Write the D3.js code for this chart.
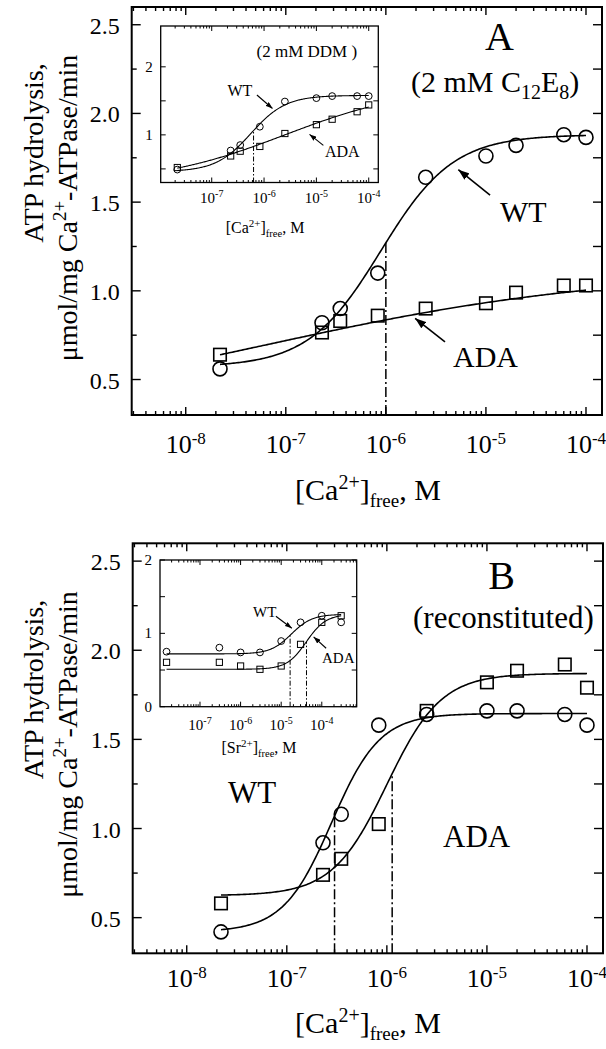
<!DOCTYPE html>
<html>
<head>
<meta charset="utf-8">
<script src="https://cdn.jsdelivr.net/npm/d3@7"></script>
<style>
  html, body { margin: 0; padding: 0; background: #fff; }
  svg { display: block; }
  text { font-family: "Liberation Serif", "Times New Roman", serif; fill: #000; }
</style>
</head>
<body>
<svg id="chart" width="606" height="1049"></svg>
<script>
// ---- free Ca2+ / Sr2+ concentrations (M) ----
const caFree = [2.2e-8, 2.3e-7, 3.5e-7, 8.3e-7, 2.5e-6, 1e-5, 2e-5, 6e-5, 1e-4];
const srFree = [1.5e-8, 3e-7, 1e-6, 3e-6, 1e-5, 3e-5, 1e-4, 3e-4];

// ---- ATP hydrolysis rates, umol/mg/min ----
// Panel A, 2 mM C12E8
const wtC12E8  = [0.56, 0.82, 0.90, 1.10, 1.64, 1.76, 1.82, 1.88, 1.865];
const adaC12E8 = [0.64, 0.765, 0.83, 0.86, 0.90, 0.93, 0.99, 1.03, 1.03];
// Panel A inset, 2 mM DDM
const wtDDM  = [0.49, 0.77, 0.85, 1.12, 1.49, 1.54, 1.57, 1.57, 1.57];
const adaDDM = [0.52, 0.69, 0.76, 0.83, 1.02, 1.15, 1.23, 1.34, 1.44];
// Panel B, reconstituted
const wtRecon  = [0.42, 0.92, 1.08, 1.58, 1.64, 1.66, 1.66, 1.64, 1.58];
const adaRecon = [0.58, 0.74, 0.83, 1.025, 1.66, 1.82, 1.885, 1.92, 1.79];
// Panel B inset, Sr2+ activation
const wtSr  = [0.75, 0.805, 0.74, 0.74, 0.895, 1.15, 1.24, 1.15];
const adaSr = [0.605, 0.605, 0.555, 0.51, 0.555, 0.85, 1.15, 1.24];

// ---- Hill fits: [bottom, top, K (M), nH] ----
const fitWtC12E8  = [0.57, 1.88, 8.9e-7, 1.2];
const fitAdaC12E8 = [0.27, 1.12, 6.3e-8, 0.25];
const fitWtDDM    = [0.46, 1.58, 5.6e-7, 1.3];
const fitAdaDDM   = [0.28, 1.72, 2.5e-6, 0.35];
const fitWtRecon  = [0.42, 1.645, 2.8e-7, 1.8];
const fitAdaRecon = [0.624, 1.87, 1.0e-6, 1.6];
const fitWtSr     = [0.72, 1.26, 1.78e-5, 1.7];
const fitAdaSr    = [0.51, 1.26, 4.17e-5, 1.8];

// ---- half-activation markers (M) ----
const halfC12E8 = [1e-6];
const halfDDM   = [6.3e-7];
const halfRecon = [3.0e-7, 1.13e-6];
const halfSr    = [1.66e-5, 4.2e-5];

// ---- tick values and labels ----
const mainXTicks = [1e-8, 1e-7, 1e-6, 1e-5, 1e-4];
const mainXTickExp = ["-8", "-7", "-6", "-5", "-4"];
const mainYTicks = [0.5, 1.0, 1.5, 2.0, 2.5];
const mainYTickLabels = ["0.5", "1.0", "1.5", "2.0", "2.5"];
const insetXTicks = [1e-7, 1e-6, 1e-5, 1e-4];
const insetXTickExp = ["-7", "-6", "-5", "-4"];
const insetAYTicks = [1, 2];
const insetAYTickLabels = ["1", "2"];
const insetBYTicks = [0, 1, 2];
const insetBYTickLabels = ["0", "1", "2"];

const svg = d3.select("#chart");

function hill(p, c) {
  const [b, t, K, n] = p;
  return b + (t - b) / (1 + Math.pow(K / c, n));
}

// text with super/subscripts: parts = [[text, size, rise]]
function rich(sel, parts) {
  let prev = 0;
  parts.forEach(([t, size, rise]) => {
    sel.append("tspan").attr("font-size", size).attr("dy", prev - rise).text(t);
    prev = rise;
  });
  return sel;
}

function drawPlot(c) {
  const g = svg.append("g");
  const x = d3.scaleLog().domain(c.xDom).range([c.x0, c.x1]);
  const y = d3.scaleLinear().domain(c.yDom).range([c.y1, c.y0]);

  if (c.background) {
    g.append("rect").attr("x", c.x0).attr("y", c.y0)
      .attr("width", c.x1 - c.x0).attr("height", c.y1 - c.y0).attr("fill", "#fff");
  }

  // fitted curves
  const line = d3.line().x(d => x(d[0])).y(d => y(d[1]));
  c.series.forEach(s => {
    const lo = Math.log10(d3.min(s.x)), hi = Math.log10(d3.max(s.x));
    const pts = d3.range(0, 241).map(i => {
      const v = Math.pow(10, lo + (hi - lo) * i / 240);
      return [v, hill(s.fit, v)];
    });
    g.append("path").attr("d", line(pts)).attr("fill", "none")
      .attr("stroke", "#000").attr("stroke-width", c.curveWidth);
  });

  // half-activation drop lines
  c.half.forEach(h => {
    g.append("line").attr("x1", x(h.x)).attr("x2", x(h.x))
      .attr("y1", c.y1).attr("y2", y(hill(h.fit, h.x)))
      .attr("stroke", "#000").attr("stroke-width", c.dashWidth)
      .attr("stroke-dasharray", c.dash);
  });

  // data markers
  c.series.forEach(s => {
    s.y.forEach((v, i) => {
      const px = x(s.x[i]), py = y(v);
      if (s.shape === "circle") {
        g.append("circle").attr("cx", px).attr("cy", py).attr("r", c.r)
          .attr("fill", "none").attr("stroke", "#000").attr("stroke-width", c.markerWidth);
      } else {
        g.append("rect").attr("x", px - c.sq / 2).attr("y", py - c.sq / 2)
          .attr("width", c.sq).attr("height", c.sq)
          .attr("fill", "none").attr("stroke", "#000").attr("stroke-width", c.markerWidth);
      }
    });
  });

  // frame
  g.append("rect").attr("x", c.x0).attr("y", c.y0)
    .attr("width", c.x1 - c.x0).attr("height", c.y1 - c.y0)
    .attr("fill", "none").attr("stroke", "#000").attr("stroke-width", c.frameWidth);

  // log x ticks (decades long, 2..9 short), bottom and top, pointing inward
  const [dLo, dHi] = [Math.floor(Math.log10(c.xDom[0])), Math.ceil(Math.log10(c.xDom[1]))];
  for (let d = dLo; d <= dHi; d++) {
    for (let m = 1; m <= 9; m++) {
      const v = m * Math.pow(10, d);
      if (v < c.xDom[0] * 1.0001 || v > c.xDom[1] * 0.9999) continue;
      const len = m === 1 ? c.xMajor : c.xMinor;
      const px = x(v);
      g.append("line").attr("x1", px).attr("x2", px).attr("y1", c.y1).attr("y2", c.y1 - len)
        .attr("stroke", "#000").attr("stroke-width", c.tickWidth);
      g.append("line").attr("x1", px).attr("x2", px).attr("y1", c.y0).attr("y2", c.y0 + len)
        .attr("stroke", "#000").attr("stroke-width", c.tickWidth);
    }
  }
  // y ticks, left and right
  c.yTickAll.forEach(v => {
    const major = c.yTicks.some(t => Math.abs(t - v) < 1e-9);
    const py = y(v);
    const lenL = major ? c.yMajor : c.yMinor;
    g.append("line").attr("x1", c.x0).attr("x2", c.x0 + lenL).attr("y1", py).attr("y2", py)
      .attr("stroke", "#000").attr("stroke-width", c.tickWidth);
    g.append("line").attr("x1", c.x1).attr("x2", c.x1 - c.yRight).attr("y1", py).attr("y2", py)
      .attr("stroke", "#000").attr("stroke-width", c.tickWidth);
  });

  // x tick labels: 10 with exponent
  c.xTicks.forEach((v, i) => {
    const t = g.append("text").attr("x", x(v)).attr("y", c.xLabelY).attr("text-anchor", "middle");
    rich(t, [["10", c.xFont, 0], [c.xTickExp[i], c.xSupFont, c.xSupRise]]);
  });
  // y tick labels
  c.yTicks.forEach((v, i) => {
    g.append("text").attr("x", c.x0 - c.yLabelGap).attr("y", y(v) + c.yLabelDy)
      .attr("text-anchor", "end").attr("font-size", c.yFont).text(c.yTickLabels[i]);
  });

  return { x, y, g };
}

function arrowDefs() {
  const defs = svg.append("defs");
  [["headBig", 11, 8], ["headSmall", 7, 5]].forEach(([id, L, W]) => {
    defs.append("marker").attr("id", id).attr("markerUnits", "userSpaceOnUse")
      .attr("markerWidth", L).attr("markerHeight", W)
      .attr("viewBox", `0 0 ${L} ${W}`).attr("refX", L).attr("refY", W / 2)
      .attr("orient", "auto")
      .append("path").attr("d", `M0,0 L${L},${W / 2} L0,${W} Z`).attr("fill", "#000");
  });
}
arrowDefs();

function arrow(p, from, to, head, w) {
  svg.append("line").attr("x1", p.x(from[0])).attr("y1", p.y(from[1]))
    .attr("x2", p.x(to[0])).attr("y2", p.y(to[1]))
    .attr("stroke", "#000").attr("stroke-width", w).attr("marker-end", `url(#${head})`);
}

const mainYAll = d3.range(0.5, 2.51, 0.25);
const mainStyle = {
  xDom: [Math.pow(10, -8.54), Math.pow(10, -3.84)], yDom: [0.3, 2.6],
  xTicks: mainXTicks, xTickExp: mainXTickExp, yTicks: mainYTicks, yTickLabels: mainYTickLabels,
  yTickAll: mainYAll, xMajor: 8, xMinor: 4, yMajor: 9, yMinor: 5, yRight: 9,
  xFont: 26, xSupFont: 17, xSupRise: 9, yFont: 24, yLabelGap: 12, yLabelDy: 9,
  frameWidth: 2, tickWidth: 1.4, curveWidth: 1.6, markerWidth: 1.6, r: 7, sq: 12.5,
  dash: "10,3,2,3", dashWidth: 1.5
};
const insetStyle = {
  xTicks: insetXTicks, xTickExp: insetXTickExp,
  xMajor: 5, xMinor: 2.5, yMajor: 5, yMinor: 5, yRight: 5,
  xFont: 15, xSupFont: 10, xSupRise: 6, yFont: 15, yLabelGap: 8, yLabelDy: 5,
  frameWidth: 1.3, tickWidth: 1, curveWidth: 1.1, markerWidth: 1, r: 3.4, sq: 6.2,
  dash: "5,2,1.5,2", dashWidth: 1, background: true
};

// ================= Panel A =================
const pA = drawPlot(Object.assign({}, mainStyle, {
  x0: 131.7, x1: 602, y0: 7, y1: 415, xLabelY: 453,
  series: [
    { x: caFree, y: wtC12E8, fit: fitWtC12E8, shape: "circle" },
    { x: caFree, y: adaC12E8, fit: fitAdaC12E8, shape: "square" }
  ],
  half: [{ x: halfC12E8[0], fit: fitWtC12E8 }]
}));
arrow(pA, [1.1e-5, 1.54], [5.3e-6, 1.683], "headBig", 1.6);
arrow(pA, [3.9e-6, 0.712], [1.96e-6, 0.845], "headBig", 1.6);
svg.append("text").attr("x", 485).attr("y", 50).attr("font-size", 40).text("A");
rich(svg.append("text").attr("x", 411).attr("y", 91.7),
  [["(2 mM C", 30, 0], ["12", 20, -7], ["E", 30, 0], ["8", 20, -7], [")", 30, 0]]);
svg.append("text").attr("x", 500).attr("y", 221.7).attr("font-size", 30).text("WT");
svg.append("text").attr("x", 453).attr("y", 366.7).attr("font-size", 30).text("ADA");
rich(svg.append("text").attr("x", 368).attr("y", 500).attr("text-anchor", "middle"),
  [["[Ca", 30, 0], ["2+", 20, 11], ["]", 30, 0], ["free", 19, -7], [", M", 30, 0]]);

// inset A (DDM)
const iA = drawPlot(Object.assign({}, insetStyle, {
  x0: 160.7, x1: 378.3, y0: 26, y1: 182.5,
  xDom: [Math.pow(10, -7.975), Math.pow(10, -3.817)], yDom: [0.3, 2.6],
  yTicks: insetAYTicks, yTickLabels: insetAYTickLabels, yTickAll: [0.5, 1, 1.5, 2],
  xLabelY: 202.5,
  series: [
    { x: caFree, y: wtDDM, fit: fitWtDDM, shape: "circle" },
    { x: caFree, y: adaDDM, fit: fitAdaDDM, shape: "square" }
  ],
  half: [{ x: halfDDM[0], fit: fitWtDDM }]
}));
arrow(iA, [7.3e-7, 1.586], [1.45e-6, 1.388], "headSmall", 1.1);
arrow(iA, [1.36e-5, 0.846], [7.4e-6, 1.007], "headSmall", 1.1);
svg.append("text").attr("x", 256.5).attr("y", 56.7).attr("font-size", 17).text("(2 mM DDM )");
svg.append("text").attr("x", 227.5).attr("y", 96).attr("font-size", 16).text("WT");
svg.append("text").attr("x", 325).attr("y", 157.3).attr("font-size", 16).text("ADA");
rich(svg.append("text").attr("x", 265).attr("y", 233).attr("text-anchor", "middle"),
  [["[Ca", 16, 0], ["2+", 11, 6], ["]", 16, 0], ["free", 10.5, -4], [", M", 16, 0]]);

// ================= Panel B =================
const pB = drawPlot(Object.assign({}, mainStyle, {
  x0: 132.7, x1: 603, y0: 543.3, y1: 953.3, xLabelY: 987,
  series: [
    { x: caFree, y: wtRecon, fit: fitWtRecon, shape: "circle" },
    { x: caFree, y: adaRecon, fit: fitAdaRecon, shape: "square" }
  ],
  half: [{ x: halfRecon[0], fit: fitWtRecon }, { x: halfRecon[1], fit: fitAdaRecon }]
}));
svg.append("text").attr("x", 488.3).attr("y", 589.3).attr("font-size", 40).text("B");
svg.append("text").attr("x", 413).attr("y", 628.3).attr("font-size", 31).text("(reconstituted)");
svg.append("text").attr("x", 228).attr("y", 803.3).attr("font-size", 31).text("WT");
svg.append("text").attr("x", 443).attr("y", 847.3).attr("font-size", 31).text("ADA");
rich(svg.append("text").attr("x", 368).attr("y", 1033).attr("text-anchor", "middle"),
  [["[Ca", 30, 0], ["2+", 20, 11], ["]", 30, 0], ["free", 19, -7], [", M", 30, 0]]);

// inset B (Sr2+)
const iB = drawPlot(Object.assign({}, insetStyle, {
  x0: 160, x1: 356.7, y0: 560, y1: 706.7,
  xDom: [Math.pow(10, -7.985), Math.pow(10, -3.14)], yDom: [0, 2],
  yTicks: insetBYTicks, yTickLabels: insetBYTickLabels, yTickAll: [0, 0.5, 1, 1.5, 2],
  xLabelY: 729.5,
  series: [
    { x: srFree, y: wtSr, fit: fitWtSr, shape: "circle" },
    { x: srFree, y: adaSr, fit: fitAdaSr, shape: "square" }
  ],
  half: [{ x: halfSr[0], fit: fitWtSr }, { x: halfSr[1], fit: fitAdaSr }]
}));
arrow(iB, [7.4e-6, 1.233], [1.83e-5, 1.07], "headSmall", 1.1);
arrow(iB, [1.28e-4, 0.797], [6.3e-5, 0.951], "headSmall", 1.1);
svg.append("text").attr("x", 253).attr("y", 616.7).attr("font-size", 15).text("WT");
svg.append("text").attr("x", 322).attr("y", 662.7).attr("font-size", 15).text("ADA");
rich(svg.append("text").attr("x", 259).attr("y", 753).attr("text-anchor", "middle"),
  [["[Sr", 16, 0], ["2+", 11, 6], ["]", 16, 0], ["free", 10.5, -4], [", M", 16, 0]]);

// ================= y-axis titles =================
[0, 536.5].forEach(off => {
  svg.append("text").attr("transform", `translate(43,${153 + off}) rotate(-90)`)
    .attr("text-anchor", "middle").attr("font-size", 28).text("ATP hydrolysis,");
  rich(svg.append("text").attr("transform", `translate(77,${208 + off}) rotate(-90)`)
      .attr("text-anchor", "middle"),
    [["\u03bcmol/mg Ca", 28, 0], ["2+", 19, 11], ["-ATPase/min", 28, 0]]);
});
</script>
</body>
</html>
